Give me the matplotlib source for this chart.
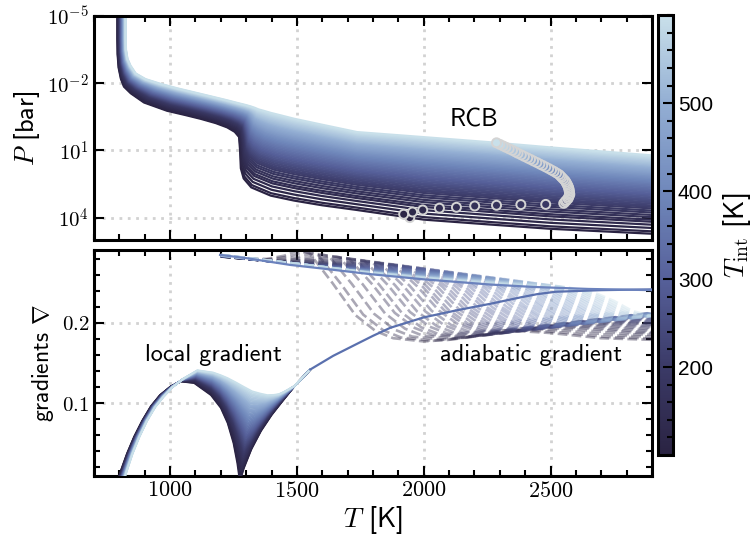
import matplotlib
matplotlib.use("Agg")
import matplotlib.pyplot as plt
import numpy as np
from matplotlib.colors import LinearSegmentedColormap, Normalize
from matplotlib.cm import ScalarMappable
from matplotlib.ticker import FixedLocator, FixedFormatter, MultipleLocator, NullLocator

plt.rcParams['mathtext.fontset'] = 'cm'
plt.rcParams['font.family'] = ['cmss10', 'DejaVu Sans']
plt.rcParams['axes.unicode_minus'] = False

# internal temperatures of the model grid [K]
T_int = [100, 110, 120, 130, 140, 150, 160, 170, 180, 190,
         200, 210, 220, 230, 240, 250, 260, 270, 280, 290,
         300, 310, 320, 330, 340, 350, 360, 370, 380, 390,
         400, 410, 420, 430, 440, 450, 460, 470, 480, 490,
         500, 510, 520, 530, 540, 550, 560, 570, 580, 590, 600]

# radiative-convective boundary of each model (T [K], log10 P [bar])
rcb_T = [1945, 1921, 1956, 1996, 2062, 2129, 2201, 2287, 2383, 2481,
         2552, 2558, 2562, 2569, 2571, 2574, 2576, 2575, 2574, 2573,
         2572, 2570, 2567, 2564, 2561, 2557, 2551, 2545, 2540, 2534,
         2524, 2514, 2504, 2493, 2481, 2469, 2458, 2446, 2433, 2421,
         2410, 2397, 2385, 2372, 2362, 2350, 2337, 2324, 2313, 2300, 2287]
rcb_logP = [4.00, 3.85, 3.75, 3.66, 3.58, 3.54, 3.48, 3.45, 3.42, 3.41,
            3.36, 3.29, 3.23, 3.16, 3.09, 3.02, 2.96, 2.89, 2.82, 2.75,
            2.69, 2.62, 2.55, 2.49, 2.42, 2.35, 2.28, 2.21, 2.15, 2.08,
            2.01, 1.94, 1.88, 1.81, 1.74, 1.67, 1.61, 1.54, 1.47, 1.40,
            1.34, 1.27, 1.20, 1.13, 1.07, 1.00, 0.93, 0.86, 0.80, 0.73, 0.66]

# P-T profile of the coldest and hottest model, matched point by point
cold_T = [792, 792, 793, 797, 806, 818, 845, 897, 988, 1060, 1121, 1180, 1225,
          1255, 1272, 1276, 1279, 1290, 1320, 1397,
          1489, 1600, 1737, 2000, 2263, 2500, 2900, 3100]
cold_logP = [-5.2, -4.0, -3.3, -2.7, -2.2, -1.85, -1.55, -1.14, -0.77, -0.58, -0.41, -0.22, -0.03,
             0.17, 0.40, 1.0, 1.8, 2.25, 2.65, 3.02,
             3.24, 3.45, 3.66, 4.09, 4.31, 4.50, 4.72, 4.80]
hot_T = [826, 826, 827, 833, 845, 866, 905, 963, 1030, 1100, 1170, 1225, 1270,
         1300, 1320, 1335, 1350, 1370, 1400, 1437,
         1489, 1600, 1737, 2000, 2263, 2500, 2900, 3100]
hot_logP = [-5.2, -4.0, -3.5, -3.1, -2.8, -2.45, -2.2, -2.0, -1.80, -1.61, -1.42, -1.27, -1.14,
            -1.06, -1.00, -0.96, -0.91, -0.86, -0.77, -0.67,
            -0.52, -0.25, 0.08, 0.30, 0.53, 0.76, 1.12, 1.28]
n_shared = 20   # from this index on both profiles share the same T

# local temperature gradient of the coldest / hottest model
cold_lg_T = [790, 805, 830, 858, 890, 924, 960, 1003, 1042, 1095, 1161, 1200,
             1227, 1250, 1265, 1275, 1290, 1320, 1358, 1400, 1437, 1490, 1553]
cold_lg = [0.0, 0.015, 0.037, 0.058, 0.078, 0.096, 0.110, 0.121, 0.127, 0.125, 0.110, 0.094,
           0.075, 0.050, 0.025, 0.002, 0.018, 0.042, 0.065, 0.085, 0.100, 0.121, 0.142]
hot_lg_T = [815, 830, 853, 880, 910, 942, 975, 1010, 1055, 1108, 1170, 1200,
            1226, 1260, 1292, 1325, 1358, 1385, 1410, 1430, 1450, 1489, 1553]
hot_lg = [0.0, 0.015, 0.037, 0.058, 0.078, 0.095, 0.108, 0.120, 0.131, 0.1415, 0.139, 0.136,
          0.133, 0.128, 0.123, 0.118, 0.1146, 0.112, 0.1116, 0.112, 0.1146, 0.121, 0.142]
# common deep part of the local gradient
tail_T = [1553, 1643, 1737, 1800, 1868, 2000, 2132, 2263, 2382, 2447, 2520, 2700, 2900]
tail_lg = [0.142, 0.159, 0.174, 0.184, 0.194, 0.207, 0.216, 0.224, 0.232, 0.236,
           0.239, 0.241, 0.242]

# adiabatic gradient of the coldest / hottest model
cold_ad_T = [1200, 1300, 1380, 1450, 1500, 1550, 1640, 1730, 1810, 1880, 2000, 2100,
             2200, 2315, 2500, 2700, 2900, 3100]
cold_ad = [0.283, 0.280, 0.280, 0.284, 0.290, 0.287, 0.250, 0.210, 0.190, 0.181, 0.177, 0.179,
           0.184, 0.191, 0.1875, 0.181, 0.179, 0.178]
hot_ad_T = [1200, 1500, 1800, 2100, 2400, 2600, 2700, 2780, 2850, 2920, 3000, 3080,
            3160, 3250, 3400, 3550, 3700, 3850]
hot_ad = [0.285, 0.274, 0.262, 0.253, 0.246, 0.243, 0.238, 0.228, 0.216, 0.210, 0.212, 0.217,
          0.222, 0.226, 0.228, 0.228, 0.227, 0.227]

# solid reference line along the top of the adiabatic band
ref_T = [1197, 1300, 1474, 1600, 1789, 2000, 2263, 2433, 2650, 2900]
ref_ad = [0.285, 0.281, 0.2725, 0.268, 0.261, 0.2545, 0.248, 0.245, 0.2425, 0.241]

cmap = LinearSegmentedColormap.from_list(
    'tint', ['#2a2342', '#3b3a67', '#56609a', '#7088bb', '#93aed3', '#c9e0ea'])
norm = Normalize(100, 600)

cold_T, cold_logP = np.array(cold_T, float), np.array(cold_logP)
hot_T, hot_logP = np.array(hot_T, float), np.array(hot_logP)
rcb_T, rcb_logP = np.array(rcb_T, float), np.array(rcb_logP)

# blend weight of every model, fixed by where its RCB sits between the two extremes
lp_c = np.interp(rcb_T, cold_T[n_shared:], cold_logP[n_shared:])
lp_h = np.interp(rcb_T, hot_T[n_shared:], hot_logP[n_shared:])
weights = np.clip((lp_c - rcb_logP) / (lp_c - lp_h), 0, 1)

fig = plt.figure(figsize=(7.52, 5.43), dpi=100)
ax1 = fig.add_axes([0.125, 0.558, 0.742, 0.4125])
ax2 = fig.add_axes([0.125, 0.1234, 0.742, 0.416])
cax = fig.add_axes([0.875, 0.162, 0.020, 0.810])

colors = cmap(norm(np.array(T_int)))

for k in range(len(T_int)):
    w = weights[k]
    T = (1 - w) * cold_T + w * hot_T
    lp = (1 - w) * cold_logP + w * hot_logP
    ax1.plot(T, 10 ** lp, color=colors[k], lw=1.6, zorder=2)

ax1.scatter(rcb_T, 10 ** rcb_logP, s=42, c=colors, edgecolors='#d4d4d4',
            linewidths=1.4, zorder=5)

for k in range(len(T_int)):
    w = weights[k]
    T = (1 - w) * np.array(cold_lg_T) + w * np.array(hot_lg_T)
    g = (1 - w) * np.array(cold_lg) + w * np.array(hot_lg)
    ax2.plot(T, g, color=colors[k], lw=1.3, zorder=3)
    Ta = (1 - w) * np.array(cold_ad_T) + w * np.array(hot_ad_T)
    ga = (1 - w) * np.array(cold_ad) + w * np.array(hot_ad)
    ax2.plot(Ta, ga, color=colors[k], lw=1.9, ls='--', alpha=0.4, zorder=2)

ax2.plot(tail_T, tail_lg, color='#5a70ae', lw=1.6, zorder=4)
ax2.plot(ref_T, ref_ad, color='#6b82bd', lw=1.6, zorder=4)

# axes styling
ax1.set_yscale('log')
ax1.set_ylim(1e5, 1e-5)
ax1.yaxis.set_major_locator(FixedLocator([1e-5, 1e-2, 1e1, 1e4]))
ax1.yaxis.set_major_formatter(FixedFormatter([r'$10^{-5}$', r'$10^{-2}$', r'$10^{1}$', r'$10^{4}$']))
ax1.yaxis.set_minor_locator(NullLocator())

ax2.set_ylim(0.009, 0.291)
ax2.yaxis.set_major_locator(FixedLocator([0.1, 0.2]))
ax2.yaxis.set_major_formatter(FixedFormatter([r'$0.1$', r'$0.2$']))
ax2.yaxis.set_minor_locator(MultipleLocator(0.02))

xt = [1000, 1500, 2000, 2500]
for ax in (ax1, ax2):
    ax.set_xlim(700, 2900)
    ax.xaxis.set_major_locator(FixedLocator(xt))
    ax.xaxis.set_minor_locator(MultipleLocator(100))
    ax.grid(True, which='major', ls=(0, (1, 2)), lw=2, color='#d2d2d2', zorder=0)
    ax.set_axisbelow(True)
    ax.tick_params(which='both', direction='in', top=True, right=True, width=1.5)
    ax.tick_params(which='major', length=7)
    ax.tick_params(which='minor', length=4)
    ax.tick_params(axis='y', labelsize=15)
    ax.tick_params(axis='x', labelsize=16)
    for s in ax.spines.values():
        s.set_linewidth(2.2)
ax1.set_xticklabels([])
ax2.xaxis.set_major_formatter(FixedFormatter([r'$%d$' % t for t in xt]))

ax1.set_ylabel(r'$P$ [bar]', fontsize=19)
ax2.set_ylabel(r'gradients $\nabla$', fontsize=17)
ax2.set_xlabel(r'$T$ [K]', fontsize=20, labelpad=2)

ax1.text(2200, 10 ** -0.38, 'RCB', fontsize=18, ha='center', va='center')
ax2.text(1170, 0.160, 'local gradient', fontsize=17.5, ha='center', va='center')
ax2.text(2425, 0.160, 'adiabatic gradient', fontsize=17.5, ha='center', va='center')

cb = fig.colorbar(ScalarMappable(norm=norm, cmap=cmap), cax=cax)
cb.set_ticks([200, 300, 400, 500])
cb.ax.yaxis.set_minor_locator(MultipleLocator(20))
cb.ax.tick_params(which='both', direction='in', width=1.5, labelsize=15)
cb.ax.tick_params(which='major', length=7)
cb.ax.tick_params(which='minor', length=4)
for lab in cb.ax.get_yticklabels():
    lab.set_family('Liberation Sans')
cb.outline.set_linewidth(2.2)
cb.set_label(r'$T_{\rm int}$ [K]', fontsize=20, labelpad=6)

fig.savefig('out.png', dpi=100)
